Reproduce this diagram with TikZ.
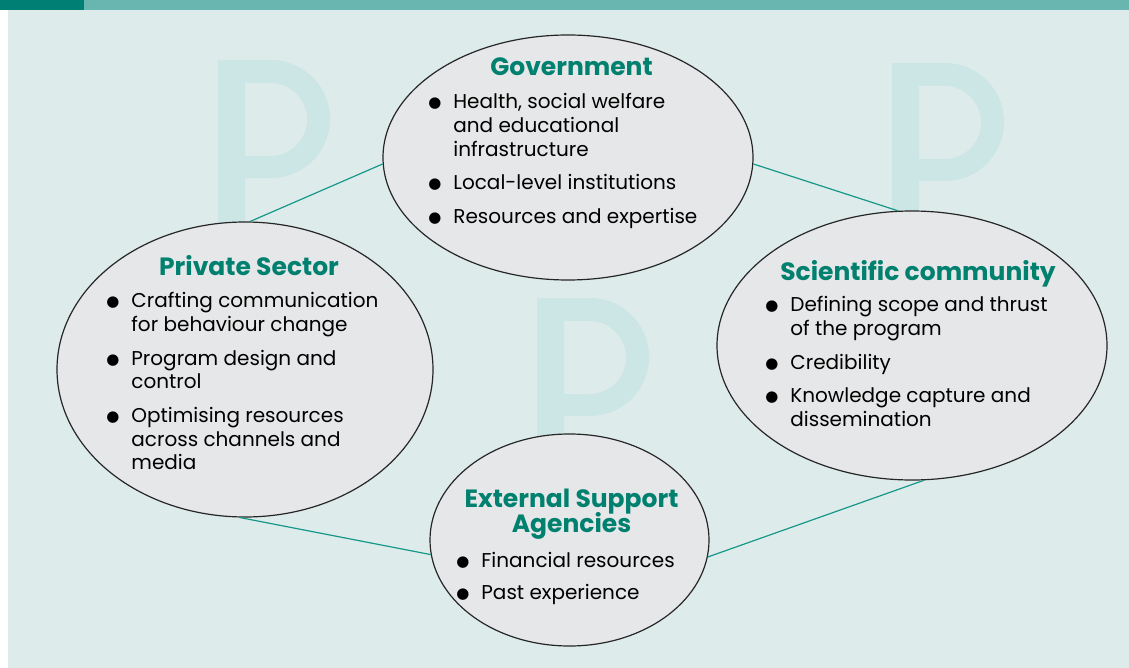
\documentclass[tikz,border=0pt]{standalone}
\usepackage{fontspec}
\setmainfont{Poppins}
\newfontfamily\dotfont{DejaVu Sans}
\usetikzlibrary{shapes.geometric,positioning}

\definecolor{banddark}{HTML}{007F74}
\definecolor{bandlight}{HTML}{69B5B0}
\definecolor{paper}{HTML}{DDECEB}
\definecolor{bubble}{HTML}{E6E7E8}
\definecolor{ghost}{HTML}{CCE5E5}
\definecolor{headteal}{HTML}{00806F}
\definecolor{linkteal}{HTML}{17978A}

\newcommand{\itm}{\makebox[12.5pt][l]{\raisebox{0.4pt}{\dotfont\fontsize{7.5}{7.5}\selectfont ●}}}
\newcommand{\cnt}{\hspace*{12.5pt}}
% big faded letter P, top left of the stem at #1,#2
\newcommand{\bigP}[2]{%
  \fill[ghost,even odd rule,shift={(#1,#2)}]
    (0,0) -- (53,0) arc (-90:90:59) -- (27,118) -- (27,215) -- (0,215) -- cycle
    (27,23) -- (52.5,23) arc (-90:90:36.5) -- (27,96) -- cycle;}

\begin{document}
\begin{tikzpicture}[x=0.5pt, y=-0.5pt,
  party/.style={ellipse, draw=black!85, line width=0.6pt, fill=bubble, inner sep=0pt},
  heading/.style={anchor=base, text=headteal, inner sep=0pt,
    font=\fontsize{12.5}{10}\selectfont\bfseries},
  points/.style={anchor=north west, align=left, inner sep=0pt,
    font=\fontsize{10}{11.85}\selectfont},
  link/.style={draw=linkteal, line width=0.6pt}]
\useasboundingbox (0,0) rectangle (1129,668);
\fill[paper] (8,10) rectangle (1129,668);
\fill[banddark] (0,0) rectangle (84,10);
\fill[bandlight] (84,0) rectangle (1129,10);

\bigP{218}{60}
\bigP{892}{63}
\bigP{537}{298}

\node[party, minimum width=185pt, minimum height=122.5pt] (gov) at (568,157.5) {};
\node[party, minimum width=188pt, minimum height=147.5pt] (priv) at (245,369.5) {};
\node[party, minimum width=195pt, minimum height=134.5pt] (sci) at (912,345.5) {};
\node[party, minimum width=139.5pt, minimum height=106pt] (ext) at (569.5,540) {};

\draw[link] (gov.182.6) -- (priv.88.8);
\draw[link] (gov.358.3) -- (sci.96.7);
\draw[link] (priv.268) -- (ext.186.5);
\draw[link] (ext.353) -- (sci.275.4);

\node[heading] (govhead) at (571.5,76) {Government};
\node[points] (govlist) at (428,93) {\itm Health, social welfare\\
  \cnt and educational\\
  \cnt infrastructure\\[5pt]
  \itm Local-level institutions\\[5pt]
  \itm Resources and expertise};

\node[heading] (privhead) at (249,276) {Private Sector};
\node[points] (privlist) at (106,292) {\itm Crafting communication\\
  \cnt for behaviour change\\[5pt]
  \itm Program design and\\
  \cnt control\\[5pt]
  \itm Optimising resources\\
  \cnt across channels and\\
  \cnt media};

\node[heading] (scihead) at (918,280) {Scientific community};
\node[points] (scilist) at (765,296) {\itm Defining scope and thrust\\
  \cnt of the program\\[5pt]
  \itm Credibility\\[5pt]
  \itm Knowledge capture and\\
  \cnt dissemination};

\node[heading, anchor=north, align=center] (exthead) at (571.5,489) {External Support\\[-2pt]Agencies};
\node[points] (extlist) at (456,552) {\itm Financial resources\\[4pt]
  \itm Past experience};
\end{tikzpicture}
\end{document}
